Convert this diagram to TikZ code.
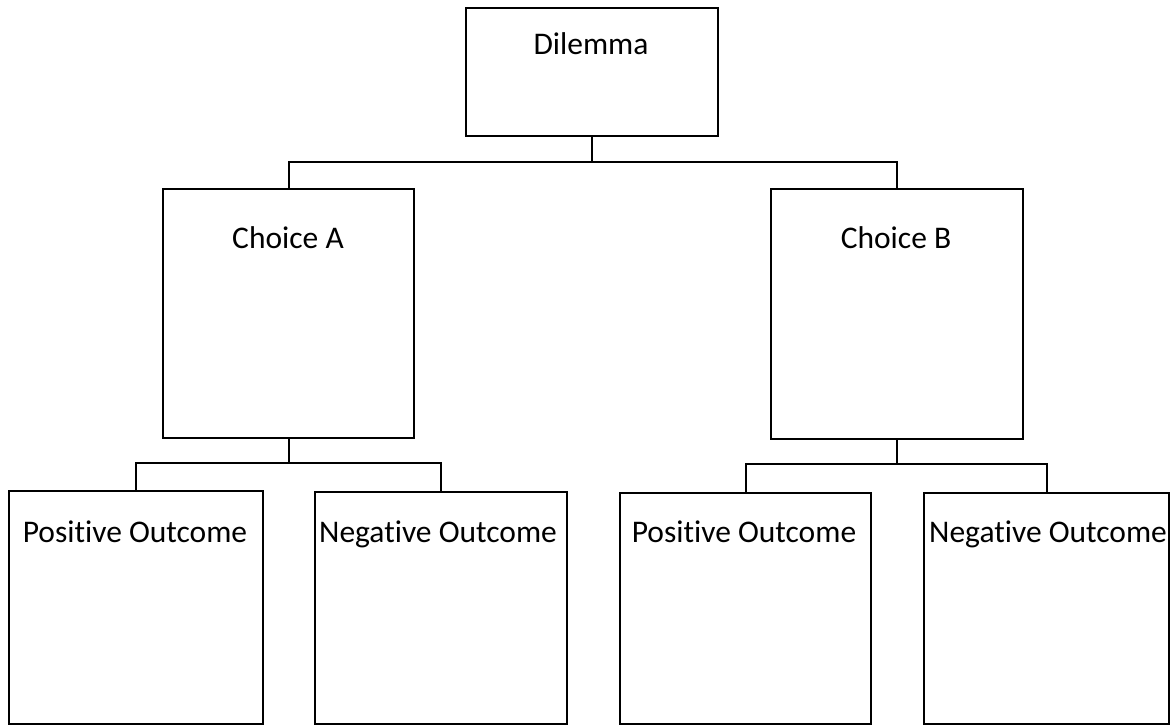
\documentclass[tikz,border=0pt]{standalone}
\usepackage{fontspec}
\setmainfont{Carlito}[Ligatures=NoCommon]
\begin{document}
\begin{tikzpicture}[x=1pt,y=-1pt,
  box/.style={draw=black, line width=2pt, fill=none, inner sep=0pt, anchor=north west},
  lbl/.style={anchor=base, inner sep=0pt, font=\fontsize{31.5}{36}\selectfont},
  conn/.style={draw=black, line width=2pt}]
\useasboundingbox (0,0) rectangle (1170,725);
% boxes
\node[box, minimum width=252pt, minimum height=128pt] (dil) at (465,7) {};
\node[box, minimum width=251pt, minimum height=249pt] (chA) at (162,188) {};
\node[box, minimum width=252pt, minimum height=250pt] (chB) at (770,188) {};
\node[box, minimum width=254pt, minimum height=233pt] (posA) at (8,490) {};
\node[box, minimum width=252pt, minimum height=232pt] (negA) at (314,491) {};
\node[box, minimum width=251pt, minimum height=231pt] (posB) at (619,492) {};
\node[box, minimum width=245pt, minimum height=231pt] (negB) at (923,492) {};
% labels
\node[lbl] (tdil) at (591,55) {Dilemma};
\node[lbl] (tchA) at (288,248) {Choice A};
\node[lbl] (tchB) at (896,248) {Choice B};
\node[lbl] (tposA) at (135,542) {Positive Outcome};
\node[lbl] (tnegA) at (438,542) {Negative Outcome};
\node[lbl] (tposB) at (744,542) {Positive Outcome};
\node[lbl] (tnegB) at (1048,542) {Negative Outcome};
% junctions
\coordinate (j0) at (dil.south |- 0,162);
\coordinate (jA) at (chA.south |- 0,463);
\coordinate (jB) at (chB.south |- 0,464);
% connectors
\draw[conn] (dil.south) -- (j0);
\draw[conn] (j0) -| (chA.north);
\draw[conn] (j0) -| (chB.north);
\draw[conn] (chA.south) -- (jA);
\draw[conn] (jA) -| (posA.north);
\draw[conn] (jA) -| (negA.north);
\draw[conn] (chB.south) -- (jB);
\draw[conn] (jB) -| (posB.north);
\draw[conn] (jB) -| (negB.north);
\end{tikzpicture}
\end{document}
